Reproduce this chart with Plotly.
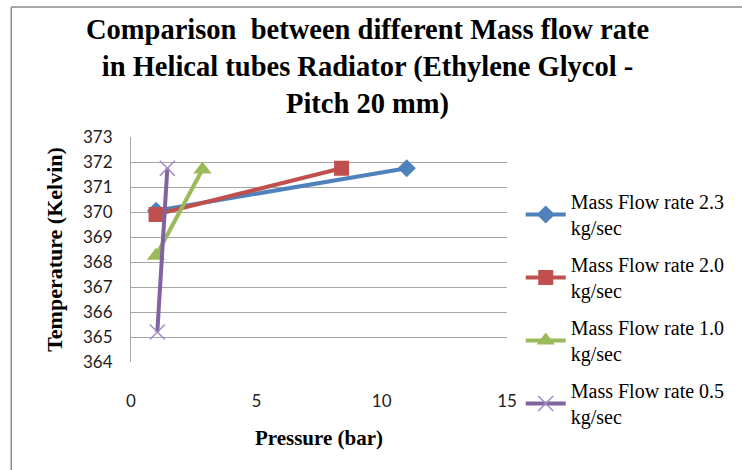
import plotly.graph_objects as go

# Pressure (bar) and outlet temperature (K) for each mass flow rate
pressure_23 = [1.0, 11.0]
temp_23 = [370.05, 371.75]
pressure_20 = [1.0, 8.4]
temp_20 = [369.9, 371.75]
pressure_10 = [1.0, 2.85]
temp_10 = [368.25, 371.7]
pressure_05 = [1.05, 1.45]
temp_05 = [365.2, 371.75]

series_names = [
    "Mass Flow rate 2.3<br>kg/sec",
    "Mass Flow rate 2.0<br>kg/sec",
    "Mass Flow rate 1.0<br>kg/sec",
    "Mass Flow rate 0.5<br>kg/sec",
]
x_ticks = [0, 5, 10, 15]
y_ticks = [364, 365, 366, 367, 368, 369, 370, 371, 372, 373]

W, H = 742, 470
L, R, T, B = 131, 228, 137, 108
pw, ph = W - L - R, H - T - B

serif = "Liberation Serif"
sans = "Lato"

fig = go.Figure()

styles = [
    (pressure_23, temp_23, "#4F81BD", dict(symbol="diamond", size=14)),
    (pressure_20, temp_20, "#C0504D", dict(symbol="square", size=15)),
    (pressure_10, temp_10, "#9BBB59", dict(symbol="triangle-up", size=16)),
    (pressure_05, temp_05, "#8064A2",
     dict(symbol="x-thin", size=15, line=dict(width=1.5, color="#A08CC0"))),
]
for i, (xs, ys, col, mk) in enumerate(styles):
    mk = dict(mk)
    mk.setdefault("color", col)
    fig.add_trace(go.Scatter(
        x=xs, y=ys, mode="lines+markers", name=series_names[i],
        legendgroup=f"g{i}",
        line=dict(color=col, width=4),
        marker=mk,
    ))

def px_x(p):
    return (p - L) / pw

def px_y(p):
    return (H - B - p) / ph

# outer chart frame (left and top edges)
frame = dict(color="#8C8C8C", width=1.5)
fig.add_shape(type="line", xref="paper", yref="paper",
              x0=px_x(9), x1=px_x(9), y0=px_y(7), y1=px_y(480), line=frame)
fig.add_shape(type="line", xref="paper", yref="paper",
              x0=px_x(9), x1=px_x(760), y0=px_y(7), y1=px_y(7), line=frame)

# chart title
fig.add_annotation(
    text="<b>Comparison  between different Mass flow rate<br>"
         "in Helical tubes Radiator (Ethylene Glycol -<br>"
         "Pitch 20 mm)</b>",
    xref="paper", yref="paper", x=px_x(372), y=px_y(12),
    xanchor="center", yanchor="top", showarrow=False, align="center",
    font=dict(family=serif, size=28.5, color="black"),
)

fig.update_layout(
    width=W, height=H,
    margin=dict(l=L, r=R, t=T, b=B),
    paper_bgcolor="white", plot_bgcolor="white",
    xaxis=dict(
        range=[0, 15], tickvals=x_ticks, showgrid=False, zeroline=False,
        showline=False, ticks="", ticklabelstandoff=27,
        tickfont=dict(family=sans, size=17, color="#222"),
        title=dict(text="<b>Pressure (bar)</b>", standoff=20,
                   font=dict(family=serif, size=21, color="black")),
    ),
    yaxis=dict(
        range=[364, 373], tickvals=y_ticks, showgrid=True,
        gridcolor="#A6A6A6", gridwidth=1, zeroline=False,
        showline=True, linecolor="#A6A6A6", linewidth=1, ticks="",
        ticklabelstandoff=14,
        tickfont=dict(family=sans, size=17, color="#222"),
        title=dict(text="<b>Temperature (Kelvin)</b>", standoff=14,
                   font=dict(family=serif, size=22, color="black")),
    ),
    legend=dict(
        x=px_x(528), xanchor="left", y=px_y(182), yanchor="top",
        traceorder="grouped", tracegroupgap=8, itemwidth=40,
        maxheight=320,
        font=dict(family=serif, size=20, color="black"),
        bgcolor="rgba(0,0,0,0)",
    ),
    showlegend=True,
)

fig.write_html("out.html")
